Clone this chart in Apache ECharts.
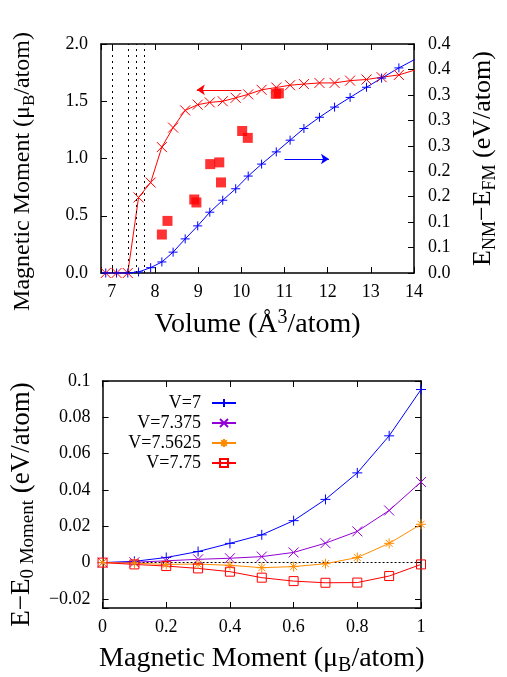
<!DOCTYPE html>
<html>
<head>
<meta charset="utf-8">
<script src="https://cdn.jsdelivr.net/npm/echarts@6/dist/echarts.min.js"></script>
<style>html,body{margin:0;padding:0;background:#fff}#c{width:507px;height:677px}</style>
</head>
<body>
<div id="c"></div>
<script>
// ---- Top panel data ----
const volume = [6.86, 7.11, 7.37, 7.62, 7.90, 8.16, 8.42, 8.70, 8.99, 9.27, 9.57, 9.87, 10.16, 10.47, 10.81, 11.13, 11.45, 11.81, 12.16, 12.52, 12.90, 13.25, 13.65, 14.05];
const moment = [0, 0, 0, 0.66, 0.79, 1.10, 1.27, 1.42, 1.47, 1.49, 1.50, 1.53, 1.56, 1.60, 1.62, 1.64, 1.65, 1.66, 1.66, 1.68, 1.69, 1.71, 1.73, 1.776];
const energyDiff = [0, 0, 0, 0.002, 0.0105, 0.0217, 0.041, 0.067, 0.0926, 0.1195, 0.143, 0.1655, 0.1905, 0.214, 0.238, 0.261, 0.284, 0.306, 0.326, 0.345, 0.365, 0.383, 0.403, 0.421];
const exptVolume = [8.16, 8.29, 8.91, 8.96, 9.28, 9.49, 9.53, 10.02, 10.15, 10.80, 10.87];
const exptMoment = [0.336, 0.455, 0.642, 0.616, 0.951, 0.966, 0.791, 1.24, 1.18, 1.565, 1.57];
const markedVolumes = [7, 7.375, 7.5625, 7.75];
const topXTickLabels = ['7', '8', '9', '10', '11', '12', '13', '14'];
const leftTickLabels = ['0.0', '0.5', '1.0', '1.5', '2.0'];
const rightTickLabels = ['0.0', '0.1', '0.1', '0.2', '0.2', '0.3', '0.3', '0.3', '0.4', '0.4'];
// arrows (annotation endpoints)
const momentArrow = [[10.0, 1.60], [8.97, 1.60]];
const energyArrow = [[11.0, 0.224], [12.03, 0.224]];

// ---- Bottom panel data ----
const mu = [0, 0.1, 0.2, 0.3, 0.4, 0.5, 0.6, 0.7, 0.8, 0.9, 1.0];
const eV7 = [0, 0.0007, 0.0028, 0.0061, 0.0106, 0.0153, 0.0231, 0.0348, 0.0494, 0.0698, 0.0953];
const eV7375 = [0, 0.0002, 0.001, 0.0018, 0.0024, 0.0033, 0.0056, 0.0107, 0.0172, 0.0287, 0.0444];
const eV75625 = [0, -0.0003, -0.001, -0.0008, -0.0015, -0.0028, -0.0022, -0.0006, 0.0028, 0.0106, 0.0211];
const eV775 = [0, -0.001, -0.0019, -0.0032, -0.005, -0.0083, -0.0102, -0.0111, -0.011, -0.0074, -0.001];
const seriesNames = ['V=7', 'V=7.375', 'V=7.5625', 'V=7.75'];
const bottomXTickLabels = ['0', '0.2', '0.4', '0.6', '0.8', '1'];
const bottomYTickLabels = ['−0.02', '0', '0.02', '0.04', '0.06', '0.08', '0.1'];

const FONT = 'Liberation Serif';
const zip = (a, b) => a.map((v, i) => [v, b[i]]);

const SYM_X = 'path://M0,0L10,10M10,0L0,10';
const SYM_PLUS = 'path://M0,5L10,5M5,0L5,10';
const SYM_STAR = 'path://M0,5L10,5M5,0L5,10M1.5,1.5L8.5,8.5M8.5,1.5L1.5,8.5';
const SYM_SQ = 'path://M0,0L10,0L10,10L0,10Z';

const tickFs = 18;
function makeRich(fs) {
  const sfs = Math.round(fs * 0.7);
  return {
    a: { fontFamily: FONT, fontSize: fs, color: '#000', lineHeight: fs + 6 },
    sub: { fontFamily: FONT, fontSize: sfs, color: '#000', lineHeight: sfs, verticalAlign: 'bottom' },
    sup: { fontFamily: FONT, fontSize: sfs, color: '#000', lineHeight: sfs, verticalAlign: 'top' }
  };
}

function frameAxis(extra) {
  return Object.assign({
    axisLine: { show: true, onZero: false, lineStyle: { color: '#000', width: 1.5 } },
    axisTick: { show: true, inside: true, length: 6, lineStyle: { color: '#000', width: 1 } },
    axisLabel: { color: '#000', fontFamily: FONT, fontSize: tickFs },
    splitLine: { show: false }
  }, extra);
}

function labelFrom(list, values) {
  return function (v) {
    for (let i = 0; i < values.length; i++) {
      if (Math.abs(v - values[i]) < 1e-6) return list[i];
    }
    return '';
  };
}

const topXVals = topXTickLabels.map(Number);
const leftVals = leftTickLabels.map((s, i) => i * 0.5);
const rightVals = rightTickLabels.map((s, i) => i * 0.05);
const botXVals = bottomXTickLabels.map(Number);
const botYVals = bottomYTickLabels.map((s, i) => -0.02 + i * 0.02);

function lineSeries(name, x, y, color, symbol, size, xi, yi, extra) {
  return Object.assign({
    name: name, type: 'line', xAxisIndex: xi, yAxisIndex: yi,
    data: zip(x, y), symbol: symbol, symbolSize: size, showSymbol: true,
    lineStyle: { color: color, width: 1 },
    itemStyle: { color: symbol === SYM_SQ ? 'rgba(0,0,0,0)' : color, borderColor: color, borderWidth: 1 },
    emphasis: { disabled: true }, animation: false, clip: true, z: 3
  }, extra || {});
}

const chart = echarts.init(document.getElementById('c'), null, { renderer: 'canvas' });

const legendRows = [396, 416, 436, 456];
const legends = seriesNames.map((n, i) => ({
  data: [n], right: 265, top: legendRows[i] - 7, orient: 'horizontal', align: 'right',
  itemWidth: 24, itemHeight: 10, selectedMode: false,
  textStyle: { fontFamily: FONT, fontSize: tickFs, color: '#000', padding: [0, 6, 0, 0] }
}));

const option = {
  backgroundColor: '#fff',
  animation: false,
  legend: legends,
  grid: [
    { left: 101, right: 85, top: 44, bottom: 404 },
    { left: 101, right: 86, top: 381, bottom: 69 }
  ],
  xAxis: [
    frameAxis({
      type: 'value', gridIndex: 0, min: 6.75, max: 14, splitNumber: 7, position: 'bottom',
      name: '{a|Volume (Å}{sup|3}{a|/atom)}', nameLocation: 'middle', nameGap: 35,
      nameTextStyle: { rich: makeRich(28) },
      axisLabel: { color: '#000', fontFamily: FONT, fontSize: tickFs, margin: 10, formatter: labelFrom(topXTickLabels, topXVals) }
    }),
    frameAxis({
      type: 'value', gridIndex: 0, min: 6.75, max: 14, splitNumber: 7, position: 'top',
      axisLabel: { show: false }
    }),
    frameAxis({
      type: 'value', gridIndex: 1, min: 0, max: 1, interval: 0.2, position: 'bottom',
      name: '{a|Magnetic Moment (μ}{sub|B}{a|/atom)}', nameLocation: 'middle', nameGap: 34,
      nameTextStyle: { rich: makeRich(28) },
      axisLabel: { color: '#000', fontFamily: FONT, fontSize: tickFs, margin: 10, formatter: labelFrom(bottomXTickLabels, botXVals) }
    }),
    frameAxis({
      type: 'value', gridIndex: 1, min: 0, max: 1, interval: 0.2, position: 'top',
      axisLabel: { show: false }
    })
  ],
  yAxis: [
    frameAxis({
      type: 'value', gridIndex: 0, min: 0, max: 2, interval: 0.5, position: 'left',
      name: '{a|Magnetic Moment (μ}{sub|B}{a|/atom)}', nameLocation: 'middle', nameGap: 63, nameRotate: 90,
      nameTextStyle: { rich: makeRich(24), padding: [0, 26, 0, 0] },
      axisLabel: { color: '#000', fontFamily: FONT, fontSize: tickFs, margin: 13, formatter: labelFrom(leftTickLabels, leftVals) }
    }),
    frameAxis({
      type: 'value', gridIndex: 0, min: 0, max: 0.45, interval: 0.05, position: 'right',
      name: '{a|E}{sub|NM}{a|−E}{sub|FM}{a| (eV/atom)}', nameLocation: 'middle', nameGap: 53, nameRotate: 90,
      nameTextStyle: { rich: makeRich(26) },
      axisLabel: { color: '#000', fontFamily: FONT, fontSize: tickFs, margin: 14, formatter: labelFrom(rightTickLabels, rightVals) }
    }),
    frameAxis({
      type: 'value', gridIndex: 1, min: -0.025, max: 0.1, splitNumber: 6, position: 'left',
      name: '{a|E−E}{sub|0 Moment}{a| (eV/atom)}', nameLocation: 'middle', nameGap: 58, nameRotate: 90,
      nameTextStyle: { rich: makeRich(27), padding: [0, 20, 0, 0] },
      axisLabel: { color: '#000', fontFamily: FONT, fontSize: tickFs, margin: 12, formatter: labelFrom(bottomYTickLabels, botYVals) }
    }),
    frameAxis({
      type: 'value', gridIndex: 1, min: -0.025, max: 0.1, splitNumber: 6, position: 'right',
      axisLabel: { show: false }
    })
  ],
  series: [
    lineSeries('moment', volume, moment, '#ff0000', SYM_X, 10, 0, 0, {
      markLine: {
        silent: true, animation: false, symbol: ['none', 'none'], label: { show: false },
        lineStyle: { color: '#000', width: 1, type: [2, 4] },
        emphasis: { disabled: true },
        data: markedVolumes.map(v => ({ xAxis: v }))
      }
    }),
    {
      type: 'lines', coordinateSystem: 'cartesian2d', xAxisIndex: 0, yAxisIndex: 0, silent: true, animation: false,
      symbol: ['none', 'arrow'], symbolSize: 8,
      lineStyle: { color: '#ff0000', width: 1, opacity: 1 },
      data: [{ coords: momentArrow }], z: 4
    },
    lineSeries('energy', volume, energyDiff, '#0000ff', SYM_PLUS, 9, 0, 1),
    {
      type: 'lines', coordinateSystem: 'cartesian2d', xAxisIndex: 0, yAxisIndex: 1, silent: true, animation: false,
      symbol: ['none', 'arrow'], symbolSize: 8,
      lineStyle: { color: '#0000ff', width: 1, opacity: 1 },
      data: [{ coords: energyArrow }], z: 4
    },
    {
      name: 'expt', type: 'scatter', xAxisIndex: 0, yAxisIndex: 0, data: zip(exptVolume, exptMoment),
      symbol: 'rect', symbolSize: 10, itemStyle: { color: '#ff0000' }, emphasis: { disabled: true }, animation: false, z: 2
    },
    lineSeries(seriesNames[0], mu, eV7, '#0000ff', SYM_PLUS, 10, 2, 2),
    lineSeries(seriesNames[1], mu, eV7375, '#9400d3', SYM_X, 10, 2, 2),
    lineSeries(seriesNames[2], mu, eV75625, '#ff8c00', SYM_STAR, 10, 2, 2),
    lineSeries(seriesNames[3], mu, eV775, '#ff0000', SYM_SQ, 9, 2, 2, {
      markLine: {
        silent: true, animation: false, symbol: ['none', 'none'], label: { show: false },
        lineStyle: { color: '#000', width: 1, type: [2, 2] },
        emphasis: { disabled: true },
        data: [{ yAxis: 0 }], z: 1
      }
    })
  ]
};
chart.setOption(option);
</script>
</body>
</html>
